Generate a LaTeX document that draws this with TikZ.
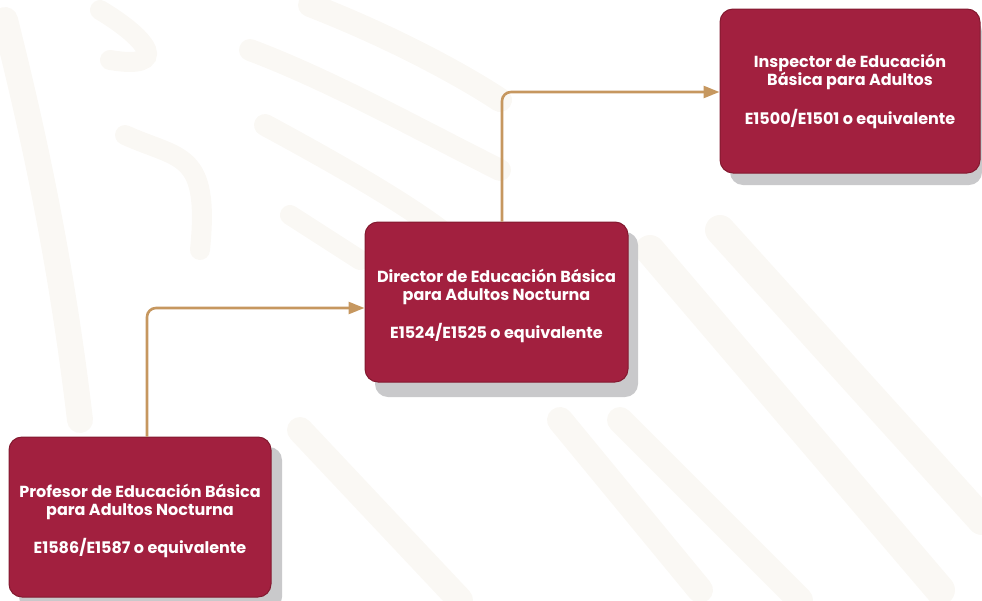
\documentclass[tikz,border=0pt]{standalone}
\usepackage{fontspec}
\setmainfont{Poppins}
\usetikzlibrary{arrows.meta,calc}
\definecolor{boxred}{HTML}{A2203F}
\definecolor{boxdark}{HTML}{83192F}
\definecolor{shadowgray}{HTML}{C9C9CB}
\definecolor{conncol}{HTML}{C6975F}
\definecolor{wmark}{HTML}{FAF8F4}
\newcommand{\boxtext}[4]{\raisebox{#4}[0pt][0pt]{\begin{tabular}{@{}c@{}}#1\\#2\\[18pt]#3\end{tabular}}}
\tikzset{
  posbox/.style={rectangle, rounded corners=13pt, fill=boxred, draw=boxdark, line width=1pt,
    text=white, font=\bfseries\fontsize{16}{18}\selectfont, inner sep=0pt},
  conn/.style={draw=conncol, line width=2.6pt, rounded corners=9pt,
    -{Triangle[length=16pt,width=12pt]}},
  wm/.style={draw=wmark, line cap=round, line width=26pt}
}
\begin{document}
\begin{tikzpicture}[x=1pt,y=-1pt]
\useasboundingbox (0,0) rectangle (982,600);
% faint watermark
\draw[wm] (5,20) .. controls (30,120) and (60,250) .. (80,420);
\draw[wm, line width=20pt] (100,10) .. controls (150,40) and (170,70) .. (110,60);
\draw[wm, line width=20pt] (125,135) .. controls (180,160) and (210,150) .. (200,250);
\draw[wm, line width=22pt] (250,50) .. controls (330,80) and (420,130) .. (500,170);
\draw[wm, line width=22pt] (265,125) .. controls (330,160) and (400,200) .. (440,230);
\draw[wm, line width=20pt] (290,215) -- (360,260);
\draw[wm, line width=24pt] (310,5) .. controls (400,40) and (470,80) .. (500,100);
\draw[wm, line width=30pt] (650,250) -- (940,590);
\draw[wm, line width=30pt] (720,230) -- (982,520);
\draw[wm, line width=26pt] (620,420) -- (800,600);
\draw[wm, line width=26pt] (560,420) -- (700,590);
\draw[wm, line width=26pt] (300,430) -- (460,600);
% shadows
\fill[shadowgray, rounded corners=13pt] (19,447) rectangle (282,610);
\fill[shadowgray, rounded corners=13pt] (375,232) rectangle (638,397);
\fill[shadowgray, rounded corners=13pt] (730,19) rectangle (982,185);
% boxes
\node[posbox, minimum width=262pt, minimum height=160pt] (prof) at (140,517)
  {\boxtext{Profesor de Educación Básica}{para Adultos Nocturna}{E1586/E1587 o equivalente}{-9pt}};
\node[posbox, minimum width=263pt, minimum height=160pt] (dir) at (496.5,302)
  {\boxtext{Director de Educación Básica}{para Adultos Nocturna}{E1524/E1525 o equivalente}{-9pt}};
\node[posbox, minimum width=260pt, minimum height=164pt] (insp) at (850,91)
  {\boxtext{Inspector de Educación}{Básica para Adultos}{E1500/E1501 o equivalente}{-5pt}};
% connectors
\draw[conn] ([xshift=7pt]prof.north) |- ([yshift=-6pt]dir.west);
\draw[conn] ([xshift=5.5pt]dir.north) |- ([yshift=-1pt]insp.west);
\end{tikzpicture}
\end{document}
